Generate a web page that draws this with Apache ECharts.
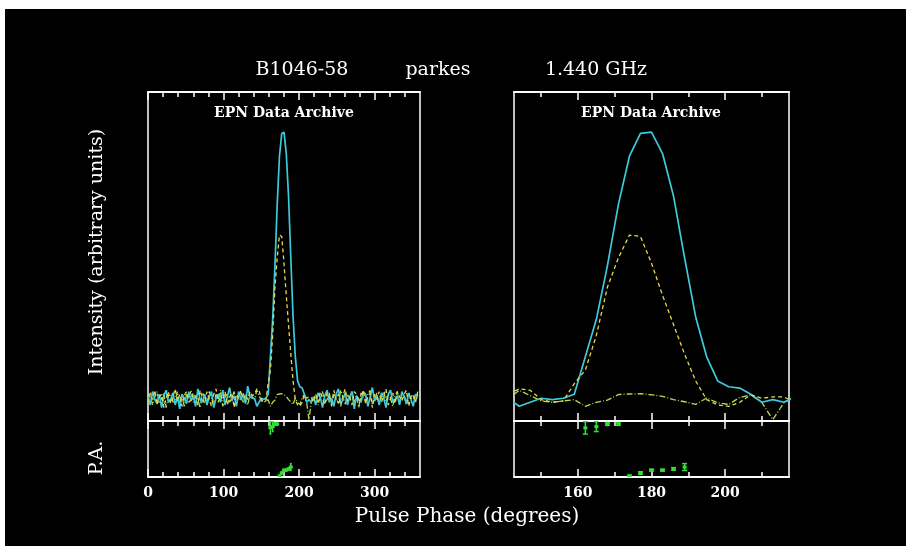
<!DOCTYPE html>
<html>
<head>
<meta charset="utf-8">
<script src="https://cdn.jsdelivr.net/npm/echarts@6/dist/echarts.min.js"></script>
<style>
  html, body { margin: 0; padding: 0; background: #fff; }
  #chart { width: 914px; height: 552px; }
</style>
</head>
<body>
<div id="chart"></div>
<script>
// pulse profile, 3 degree bins starting at phase 0
var BIN = 3;
// total intensity (solid cyan)
var intensity = [
  0.01, -0.02, 0.03, 0.0, -0.015, 0.02, -0.03, 0.015, 0.035, -0.01,
  0.0, 0.025, -0.02, 0.01, -0.035, 0.02, 0.005, -0.015, 0.03, -0.005,
  0.015, -0.025, 0.04, 0.0, -0.01, 0.02, -0.02, 0.01, 0.03, -0.03,
  0.005, 0.02, -0.01, 0.035, -0.02, 0.01, 0.045, -0.005, 0.015, -0.025,
  0.03, 0.0, 0.02, -0.015, 0.05, 0.01, 0.005,
  0.005, -0.025, -0.01, 0.005, 0.0, 0.005, 0.02, 0.16, 0.30, 0.50,
  0.73, 0.91, 0.995, 1.0, 0.92, 0.76, 0.53, 0.31, 0.16, 0.07,
  0.048, 0.043, 0.02, -0.01, 0.0, -0.01, 0.01,
  -0.02, 0.025, 0.01, -0.03, 0.015, 0.035, -0.01, 0.005, -0.025, 0.02,
  0.04, -0.015, 0.0, 0.025, -0.02, 0.01, 0.03, -0.035, 0.015, 0.0,
  -0.01, 0.03, 0.02, -0.025, 0.01, 0.045, -0.005, 0.015, -0.02, 0.025,
  0.005, -0.03, 0.02, 0.035, -0.01, 0.0, 0.015, -0.02, 0.03, 0.01,
  -0.015, 0.025, 0.0, -0.025, 0.02, 0.01
];
// linear polarisation (dashed yellow)
var linear = [
  -0.01, 0.025, 0.0, 0.035, -0.02, 0.01, 0.02, -0.03, 0.005, 0.03,
  -0.015, 0.01, 0.04, -0.005, 0.02, -0.025, 0.015, 0.03, -0.01, 0.0,
  0.025, 0.01, -0.02, 0.035, 0.005, -0.015, 0.03, 0.0, -0.025, 0.02,
  0.04, -0.01, 0.015, 0.0, 0.03, -0.02, 0.01, 0.025, -0.03, 0.02,
  0.005, 0.035, -0.01, 0.02, 0.0, 0.03, 0.015,
  0.02, 0.04, 0.035, 0.0, -0.01, -0.005, 0.06, 0.11, 0.24, 0.42,
  0.53, 0.615, 0.61, 0.51, 0.39, 0.28, 0.17, 0.07, 0.0, -0.02,
  -0.025, -0.01, 0.018, 0.005, 0.01, 0.01, -0.01,
  0.02, -0.01, 0.03, 0.005, -0.02, 0.025, 0.01, -0.015, 0.035, 0.0,
  0.02, -0.025, 0.015, 0.04, -0.005, 0.01, -0.02, 0.03, 0.02, -0.01,
  0.005, 0.035, -0.015, 0.01, 0.025, -0.03, 0.02, 0.0, 0.03, -0.01,
  0.015, 0.04, -0.02, 0.005, 0.025, -0.015, 0.03, 0.01, -0.005, 0.02,
  0.035, -0.025, 0.01, 0.02, -0.01, 0.03
];
// circular polarisation (dash-dot green)
var circular = [
  0.0, 0.02, -0.02, 0.01, 0.03, -0.015, 0.005, 0.025, -0.03, 0.015,
  0.02, -0.01, 0.0, 0.03, -0.02, 0.01, -0.025, 0.02, 0.005, 0.035,
  -0.01, 0.015, 0.0, -0.03, 0.025, 0.01, -0.015, 0.03, 0.005, -0.02,
  0.02, 0.0, 0.035, -0.025, 0.01, 0.02, -0.01, 0.005, 0.03, -0.02,
  0.015, -0.005, 0.025, 0.0, -0.02, 0.02, 0.01,
  0.0, 0.035, 0.015, -0.005, -0.01, -0.005, 0.0, -0.025, -0.01, -0.002,
  0.019, 0.021, 0.022, 0.018, 0.012, 0.0, -0.008, -0.018, 0.006, -0.012,
  -0.018, 0.008, 0.018, -0.01, -0.075, -0.012, 0.01,
  0.015, -0.02, 0.01, 0.03, -0.01, 0.0, 0.025, -0.025, 0.02, 0.005,
  -0.015, 0.035, 0.01, -0.02, 0.02, 0.0, 0.03, -0.01, 0.015, -0.03,
  0.025, 0.01, -0.005, 0.02, 0.035, -0.015, 0.0, 0.025, -0.02, 0.01,
  0.03, -0.01, 0.02, 0.005, -0.025, 0.015, 0.03, -0.005, 0.01, 0.02,
  -0.02, 0.025, 0.0, 0.015, -0.01, 0.02
];
// position angle points (degrees) with errors
var paPhase = [162, 165, 168, 171, 174, 177, 180, 183, 186, 189];
var paAngle = [68, 72, 80, 80, -87, -77, -68, -68, -64, -58];
var paError = [20, 16, 4, 4, 3, 4, 3, 3, 4, 11];

var leftMajorTicks = [0, 100, 200, 300];
var leftMinorTicks = [20, 40, 60, 80, 120, 140, 160, 180, 220, 240, 260, 280, 320, 340];
var rightMajorTicks = [160, 180, 200];
var rightMinorTicks = [150, 170, 190, 210];

var phase = intensity.map(function (v, i) { return i * BIN; });

var WHITE = '#ffffff';
var FONT = 'DejaVu Serif';

var leftRange = [0, 360];
var rightRange = [142.6, 217.4];

var grids = [
  { left: 148, top: 92, width: 272, height: 329 },
  { left: 148, top: 421, width: 272, height: 56 },
  { left: 514, top: 92, width: 275, height: 329 },
  { left: 514, top: 421, width: 275, height: 56 }
];
grids.forEach(function (g) {
  g.show = true;
  g.borderColor = WHITE;
  g.borderWidth = 1.5;
  g.backgroundColor = 'transparent';
});

var xAxes = [];
function tickAxis(grid, pos, ticks, len, range, labels) {
  xAxes.push({
    type: 'value', gridIndex: grid, position: pos,
    min: range[0], max: range[1],
    axisLine: { show: true, onZero: false, lineStyle: { color: WHITE, width: 1.5 } },
    axisTick: { show: true, inside: true, length: len, customValues: ticks,
                lineStyle: { color: WHITE, width: 1.5 } },
    axisLabel: labels ? { show: true, customValues: ticks, color: WHITE,
                          fontFamily: FONT, fontSize: 14, fontWeight: 'bold', margin: 9 }
                      : { show: false },
    splitLine: { show: false }
  });
  return xAxes.length - 1;
}
// left panel
var lMain = tickAxis(0, 'bottom', leftMajorTicks, 8, leftRange, false);
tickAxis(0, 'bottom', leftMinorTicks, 5, leftRange, false);
tickAxis(0, 'top', leftMajorTicks, 8, leftRange, false);
tickAxis(0, 'top', leftMinorTicks, 5, leftRange, false);
var lPa = tickAxis(1, 'bottom', leftMajorTicks, 8, leftRange, true);
tickAxis(1, 'bottom', leftMinorTicks, 5, leftRange, false);
tickAxis(1, 'top', leftMajorTicks, 8, leftRange, false);
tickAxis(1, 'top', leftMinorTicks, 5, leftRange, false);
// right panel
var rMain = tickAxis(2, 'bottom', rightMajorTicks, 8, rightRange, false);
tickAxis(2, 'bottom', rightMinorTicks, 5, rightRange, false);
tickAxis(2, 'top', rightMajorTicks, 8, rightRange, false);
tickAxis(2, 'top', rightMinorTicks, 5, rightRange, false);
var rPa = tickAxis(3, 'bottom', rightMajorTicks, 8, rightRange, true);
tickAxis(3, 'bottom', rightMinorTicks, 5, rightRange, false);
tickAxis(3, 'top', rightMajorTicks, 8, rightRange, false);
tickAxis(3, 'top', rightMinorTicks, 5, rightRange, false);

var yAxes = [
  { type: 'value', gridIndex: 0, min: -0.08, max: 1.15, show: false },
  { type: 'value', gridIndex: 1, min: -90, max: 90, show: false },
  { type: 'value', gridIndex: 2, min: -0.08, max: 1.15, show: false },
  { type: 'value', gridIndex: 3, min: -90, max: 90, show: false }
];

function pairs(values) {
  return values.map(function (v, i) { return [phase[i], v]; });
}

function profileSeries(xi, yi) {
  return [
    { type: 'line', xAxisIndex: xi, yAxisIndex: yi, data: pairs(circular),
      showSymbol: false, clip: true, animation: false,
      lineStyle: { color: '#b6e04c', width: 1.3, type: [6, 2, 1, 2] } },
    { type: 'line', xAxisIndex: xi, yAxisIndex: yi, data: pairs(intensity),
      showSymbol: false, clip: true, animation: false,
      lineStyle: { color: '#3ccadc', width: 1.7 } },
    { type: 'line', xAxisIndex: xi, yAxisIndex: yi, data: pairs(linear),
      showSymbol: false, clip: true, animation: false,
      lineStyle: { color: '#e4d84a', width: 1.3, type: [4, 3] } }
  ];
}

function paSeries(xi, yi, cap) {
  return {
    type: 'custom', xAxisIndex: xi, yAxisIndex: yi, clip: true, animation: false,
    data: paPhase.map(function (p, i) { return [p, paAngle[i], paError[i]]; }),
    renderItem: function (params, api) {
      var x = api.value(0), y = api.value(1), e = api.value(2);
      var c = api.coord([x, y]);
      var hi = api.coord([x, y + e]);
      var lo = api.coord([x, y - e]);
      var st = { stroke: '#33e033', lineWidth: 1.5 };
      return {
        type: 'group',
        children: [
          { type: 'line', shape: { x1: c[0], y1: hi[1], x2: c[0], y2: lo[1] }, style: st },
          { type: 'line', shape: { x1: c[0] - cap, y1: hi[1], x2: c[0] + cap, y2: hi[1] }, style: st },
          { type: 'line', shape: { x1: c[0] - cap, y1: lo[1], x2: c[0] + cap, y2: lo[1] }, style: st },
          { type: 'rect', shape: { x: c[0] - 2, y: c[1] - 1.5, width: 4, height: 3 },
            style: { fill: '#33e033' } }
        ]
      };
    }
  };
}

var series = []
  .concat(profileSeries(lMain, 0))
  .concat(profileSeries(rMain, 2))
  .concat([paSeries(lPa, 1, 1), paSeries(rPa, 3, 2.5)]);

var textStyle = function (txt, size, weight) {
  return { text: txt, fill: WHITE, font: (weight || 'normal') + ' ' + size + 'px "' + FONT + '"',
           align: 'center', verticalAlign: 'middle' };
};

var option = {
  backgroundColor: '#ffffff',
  animation: false,
  grid: grids,
  xAxis: xAxes,
  yAxis: yAxes,
  series: series,
  graphic: [
    { type: 'rect', z: -10, shape: { x: 5, y: 9, width: 901, height: 537 }, style: { fill: '#000' } },
    { type: 'text', x: 302, y: 70, style: textStyle('B1046-58', 19) },
    { type: 'text', x: 438, y: 70, style: textStyle('parkes', 19) },
    { type: 'text', x: 596, y: 70, style: textStyle('1.440 GHz', 19) },
    { type: 'text', x: 284, y: 113, style: textStyle('EPN Data Archive', 14, 'bold') },
    { type: 'text', x: 651, y: 113, style: textStyle('EPN Data Archive', 14, 'bold') },
    { type: 'text', x: 97, y: 252, rotation: Math.PI / 2, style: textStyle('Intensity (arbitrary units)', 19) },
    { type: 'text', x: 97, y: 458, rotation: Math.PI / 2, style: textStyle('P.A.', 19) },
    { type: 'text', x: 467, y: 517, style: textStyle('Pulse Phase (degrees)', 20) }
  ]
};

var myChart = echarts.init(document.getElementById('chart'));
myChart.setOption(option);
</script>
</body>
</html>
